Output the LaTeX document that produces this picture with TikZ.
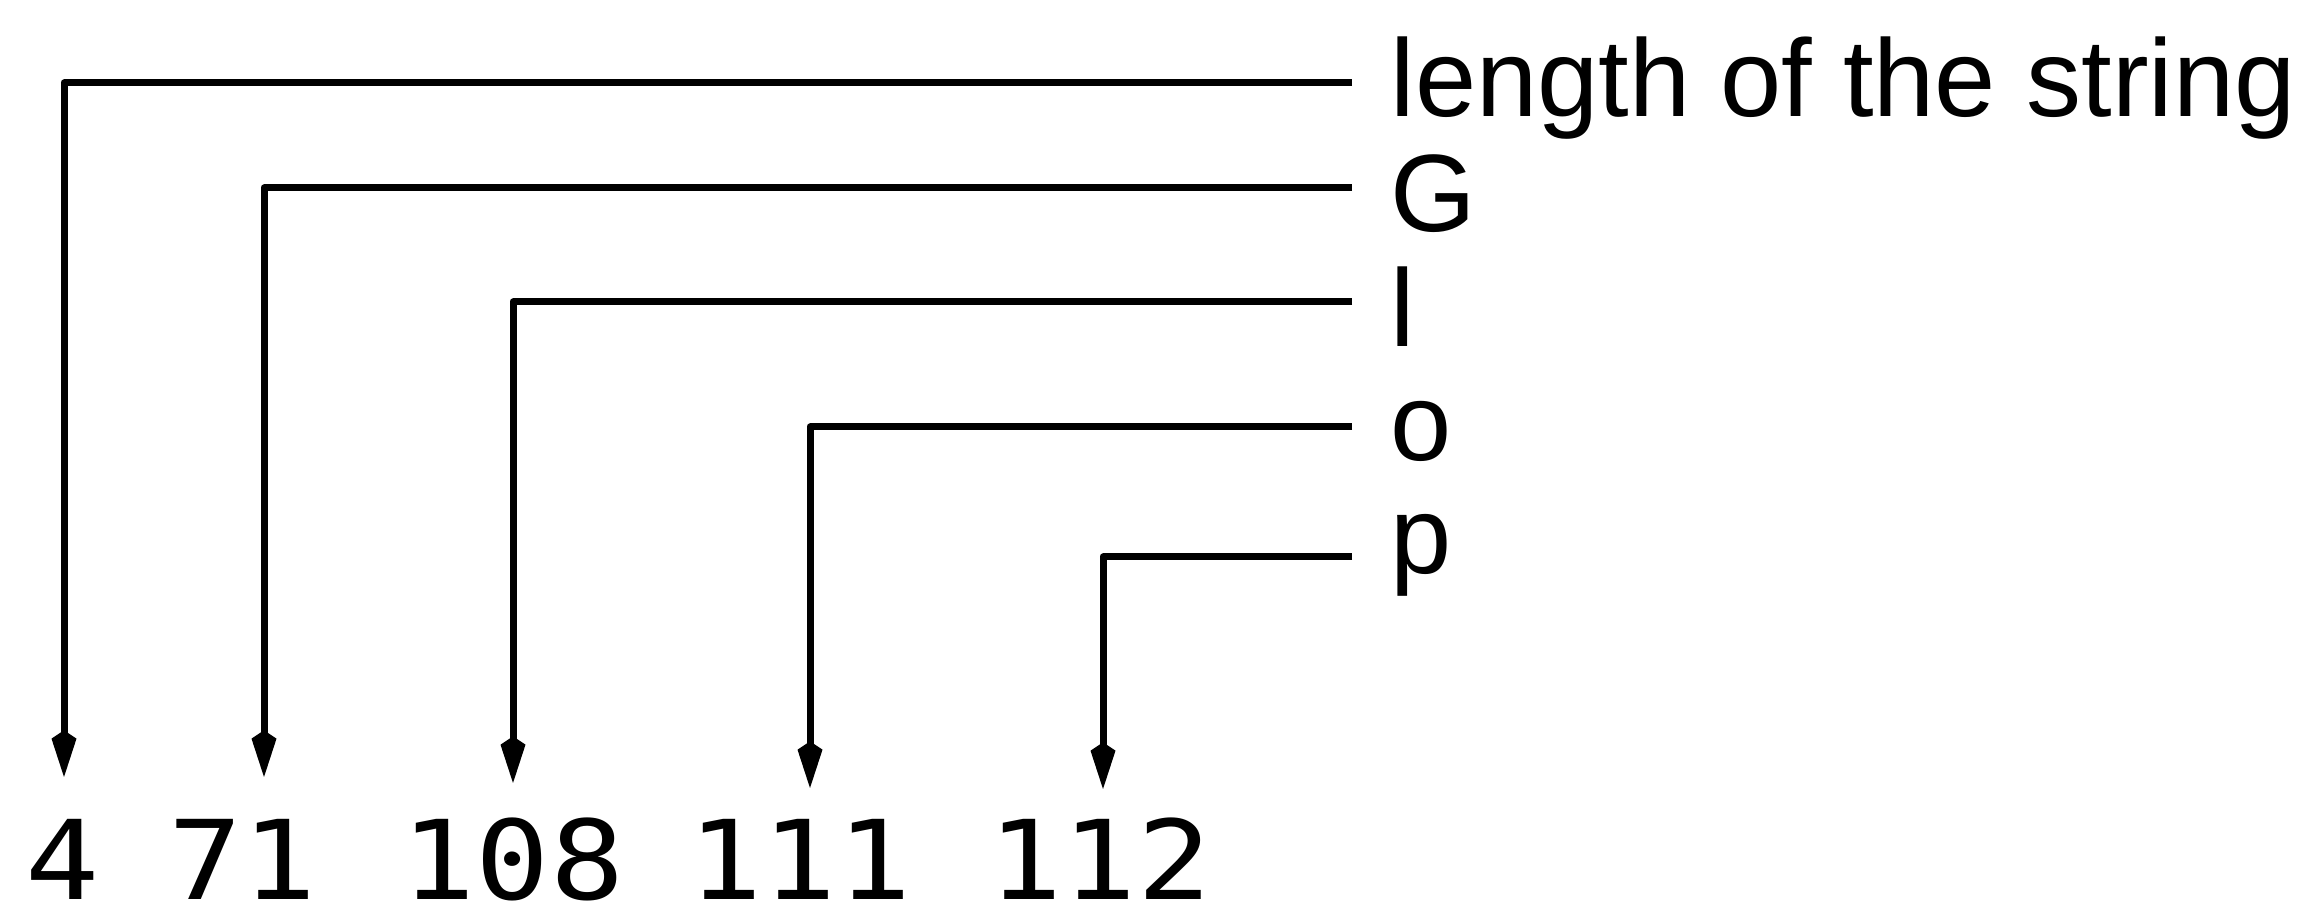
\documentclass[tikz,border=0pt]{standalone}
\usepackage{fontspec}
\setmainfont{Liberation Sans}
\newfontfamily\dotfont[FakeStretch=1.12]{DejaVu Sans Mono}
\usetikzlibrary{arrows.meta}

\begin{document}
\begin{tikzpicture}[x=0.3pt,y=-0.3pt,
  lead/.style={line width=2.1pt, line join=round,
    -{Kite[length=14pt,width=7.5pt,inset=2.5pt]}},
  tag/.style={anchor=base west, inner sep=0pt,
    font=\fontsize{33pt}{40pt}\selectfont},
  byte/.style={anchor=base, inner sep=0pt,
    font=\dotfont\fontsize{33pt}{40pt}\selectfont}]
\useasboundingbox (0,0) rectangle (2310,910);

% characters of the string
\node[tag] (len) at (1390,117) {length of the string};
\node[tag] (cG)  at (1390,232) {G};
\node[tag] (cl)  at (1390,347) {l};
\node[tag] (co)  at (1390,461) {o};
\node[tag] (cp)  at (1390,574) {p};

% stored byte values
\node[byte] (n1) at (63,900)   {4};
\node[byte] (n2) at (243,900)  {71};
\node[byte] (n3) at (513,900)  {108};
\node[byte] (n4) at (800,900)  {111};
\node[byte] (n5) at (1100,900) {112};

% leader starts beside each label, arrow tips above each value
\coordinate (e1) at (1352,83);
\coordinate (e2) at (1352,188);
\coordinate (e3) at (1352,302);
\coordinate (e4) at (1352,427);
\coordinate (e5) at (1352,557);
\coordinate (t1) at (64,777);
\coordinate (t2) at (264,777);
\coordinate (t3) at (513,783);
\coordinate (t4) at (810,788);
\coordinate (t5) at (1103,789);

\draw[lead] (e1) -| (t1);
\draw[lead] (e2) -| (t2);
\draw[lead] (e3) -| (t3);
\draw[lead] (e4) -| (t4);
\draw[lead] (e5) -| (t5);
\end{tikzpicture}
\end{document}
